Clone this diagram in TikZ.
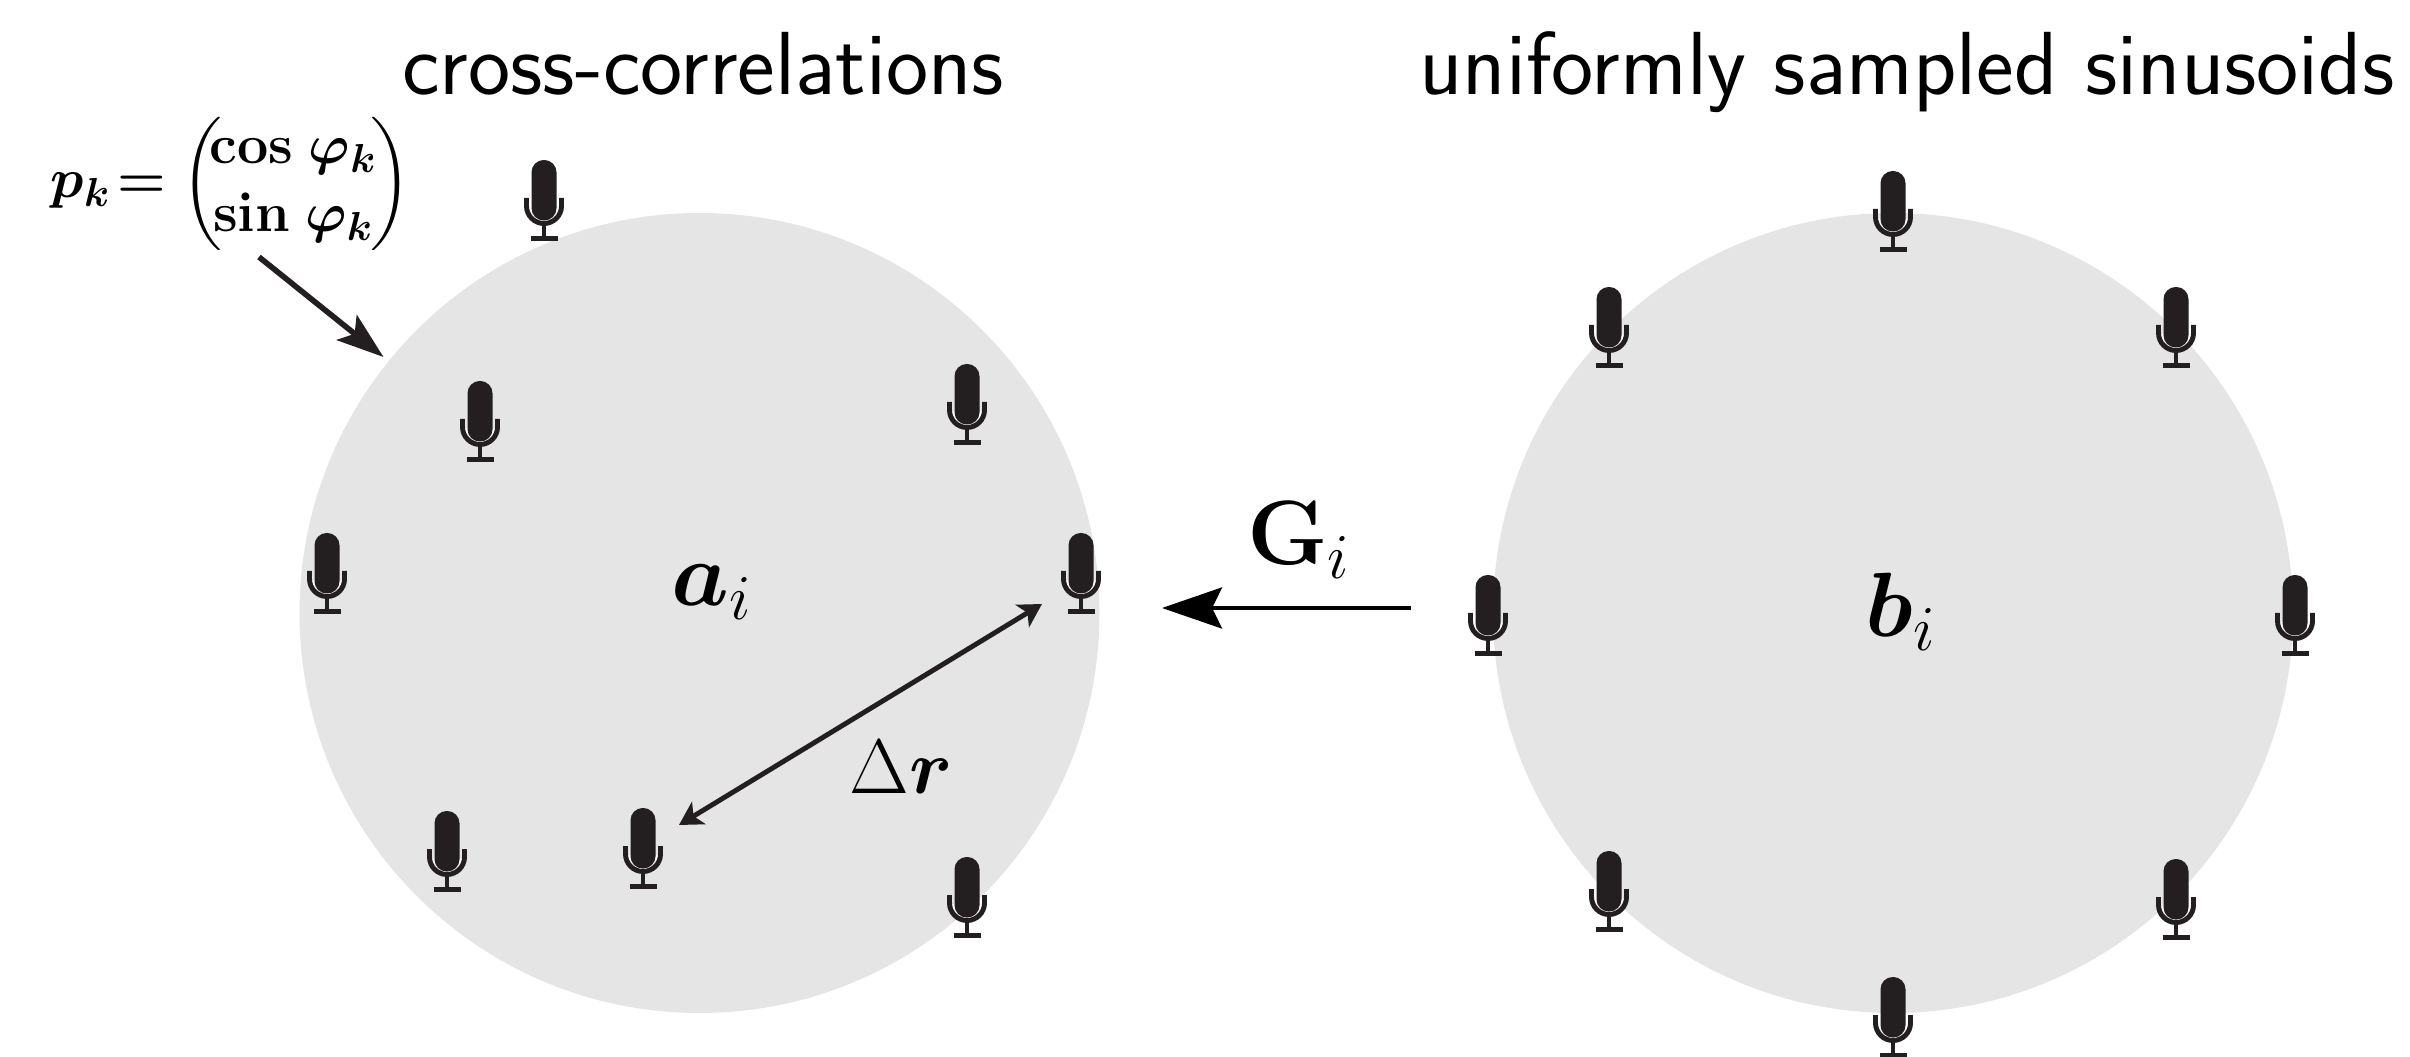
\documentclass[tikz,border=0pt]{standalone}
\usepackage{fix-cm}
\usepackage{amsmath,amssymb,bm}
\usetikzlibrary{arrows.meta,positioning,calc}
\definecolor{diskgray}{HTML}{E5E5E5}
\definecolor{micblack}{HTML}{231F20}
\DeclareMathSizes{15.8}{15.8}{11.5}{9}
\newcommand{\bvec}[1]{\boldsymbol{#1}}
\tikzset{
  title/.style={font=\sffamily\fontsize{25.5}{30}\selectfont,anchor=base,text=black,inner sep=0pt},
  label/.style={font=\fontsize{26}{31}\selectfont,text=black},
  disk/.style={fill=diskgray,draw=none},
  mic/.pic={
    \draw[white,line width=0.7pt] (-0.138,-0.47) arc (180:360:0.138);
    \fill[micblack,rounded corners=1.22mm] (-0.125,0) rectangle (0.125,-0.605);
    \draw[micblack,line width=1.4pt] (-0.175,-0.38) -- (-0.175,-0.46) arc (180:360:0.175) -- (0.175,-0.38);
    \draw[micblack,line width=1.3pt] (0,-0.635) -- (0,-0.78);
    \draw[micblack,line width=1.4pt] (-0.135,-0.785) -- (0.135,-0.785);
  }
}
\begin{document}
\begin{tikzpicture}[>=Stealth]
    \useasboundingbox (0,0) rectangle (24.1,10.56);

    % Draw disks
    \fill[disk] (6.995,4.43) circle (4);
    \fill[disk] (18.93,4.43) circle (4);

    % Draw titles
    \node[title] (corrtitle) at (7.03,9.61) {cross-correlations};
    \node[title] (sinetitle) at (19.07,9.61) {uniformly sampled sinusoids};

    % Draw microphones on the left
    \pic at (5.44,8.96) {mic};
    \pic at (4.80,6.75) {mic};
    \pic at (9.67,6.92) {mic};
    \pic at (3.27,5.23) {mic};
    \pic at (10.81,5.23) {mic};
    \pic at (4.47,2.45) {mic};
    \pic at (6.43,2.48) {mic};
    \pic at (9.67,1.99) {mic};

    % Draw microphones on the right
    \pic at (18.93,8.85) {mic};
    \pic at (16.09,7.69) {mic};
    \pic at (21.76,7.69) {mic};
    \pic at (14.88,4.81) {mic};
    \pic at (22.95,4.81) {mic};
    \pic at (16.09,2.05) {mic};
    \pic at (21.76,1.97) {mic};
    \pic at (18.93,0.79) {mic};

    % Draw labels
    \node[label] (ai) at (7.12,4.64) {$\bvec{a}_i$};
    \node[label] (bi) at (19.01,4.44) {$\bvec{b}_i$};
    \node[label] (gi) at (12.99,5.16) {$\mathbf{G}_i$};
    \node[label,font=\fontsize{22}{26}\selectfont] (dr) at (9.01,2.89) {$\Delta\bvec{r}$};
    \node[anchor=west,inner sep=0pt,font=\fontsize{15.8}{19.5}\selectfont] (pk) at (0.5,8.72)
        {$\bvec{p}_{\bvec{k}}\!\bvec{=}\begin{pmatrix}\mkern-4mu\mathbf{cos}\;\bvec{\varphi}_{\bvec{k}}\mkern-2mu\\ \mkern-4mu\mathbf{sin}\;\bvec{\varphi}_{\bvec{k}}\mkern-2mu\end{pmatrix}$};

    % Arrow to the disk edge
    \coordinate (pkstart) at (2.59,7.99);
    \coordinate (pkend) at (3.835,6.99);
    \draw[-{Stealth[length=4.7mm,width=3.2mm,inset=1mm]},line width=1.6pt,micblack] (pkstart) -- (pkend);

    % Arrow for the transform
    \coordinate (gstart) at (14.11,4.48);
    \coordinate (gend) at (11.62,4.48);
    \draw[-{Stealth[length=6mm,width=4.1mm,inset=1mm]},line width=1.2pt,black] (gstart) -- (gend);

    % Arrow for the distance
    \coordinate (drstart) at (6.79,2.31);
    \coordinate (drend) at (10.42,4.52);
    \draw[{Stealth[length=2.3mm,width=2.6mm,inset=0.6mm]}-{Stealth[length=2.3mm,width=2.6mm,inset=0.6mm]},line width=1.4pt,micblack] (drstart) -- (drend);
\end{tikzpicture}
\end{document}
